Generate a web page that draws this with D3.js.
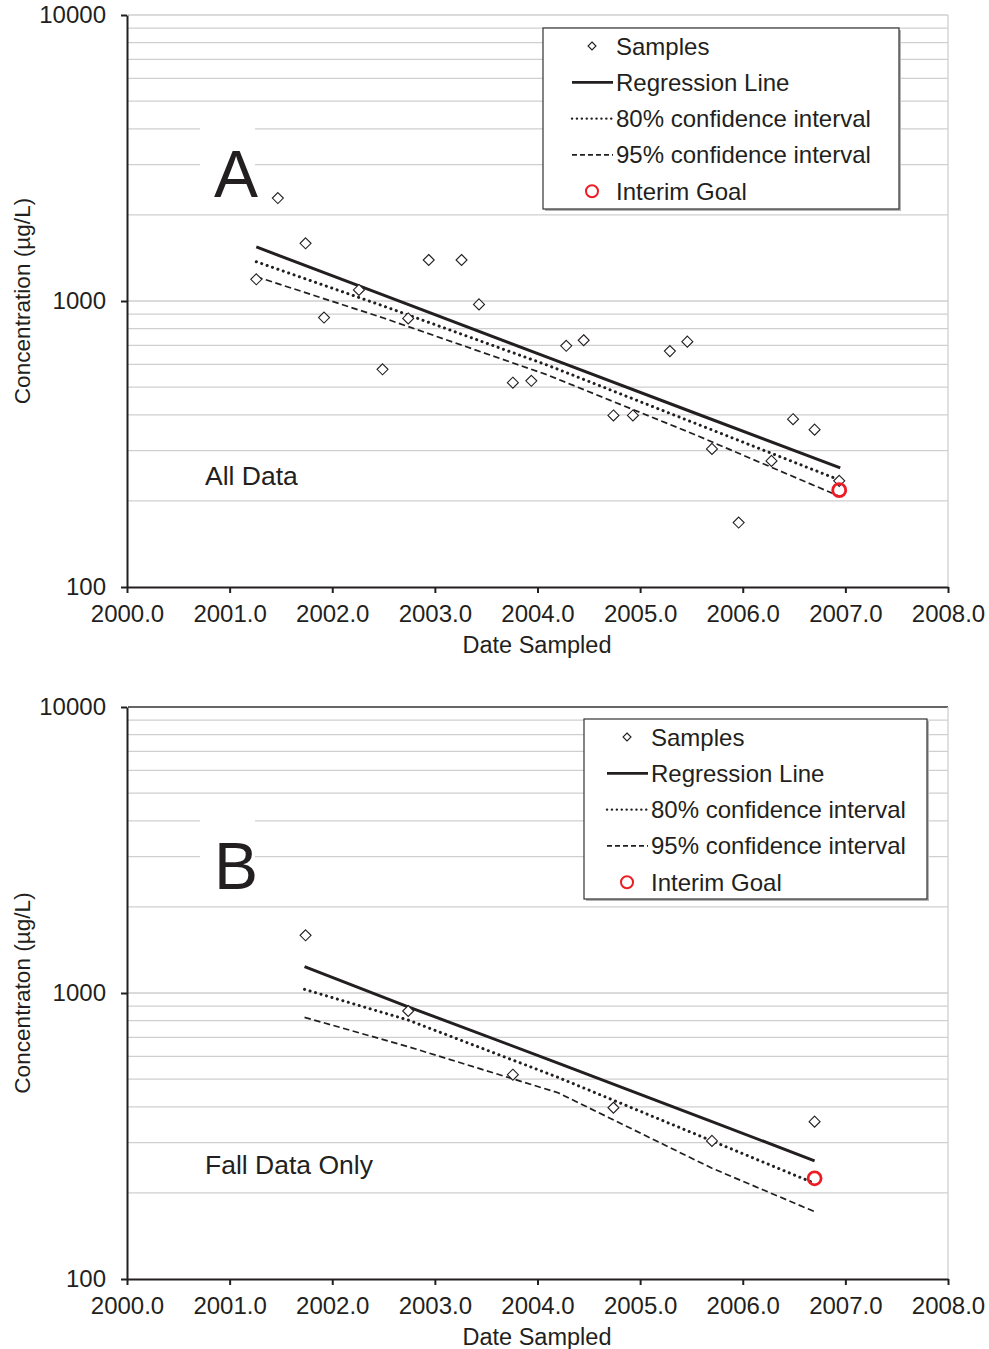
<!DOCTYPE html>
<html lang="en">
<head>
  <meta charset="UTF-8">
  <title>Concentration trend</title>
  <script src="https://d3js.org/d3.v7.min.js"></script>
  <style>
    body { margin: 0; background: #fff; }
    text { font-family: "Liberation Sans", Arial, sans-serif; fill: #231f20; }
  </style>
</head>
<body>
  <div id="chart"></div>

  <script>
    // Axis ticks
    const xTicks = [2000, 2001, 2002, 2003, 2004, 2005, 2006, 2007, 2008];
    const yTicks = [100, 1000, 10000];

    // Panel A - all data
    const sampleDatesA = [2001.26, 2001.47, 2001.74, 2001.92, 2002.26, 2002.49, 2002.74, 2002.94,
      2003.26, 2003.43, 2003.76, 2003.94, 2004.28, 2004.45, 2004.74, 2004.93,
      2005.29, 2005.46, 2005.70, 2005.96, 2006.28, 2006.49, 2006.70, 2006.94];
    const sampleConcA = [1191, 2291, 1591, 875, 1093, 577, 869, 1391,
      1391, 973, 518, 526, 697, 729, 398, 398,
      668, 721, 304, 168, 276, 386, 355, 235];
    const fitDatesA = [2001.26, 2002.5, 2004.1, 2005.5, 2006.95];
    const regressionA = [1545, 1048, 635, 410, 261];
    const ci80A = [1372, 960, 596, 378, 236];
    const ci95A = [1216, 872, 551, 345, 207];
    const goalA = { date: 2006.94, conc: 218 };

    // Panel B - fall data only
    const sampleDatesB = [2001.74, 2002.74, 2003.76, 2004.74, 2005.70, 2006.70];
    const sampleConcB = [1591, 865, 518, 397, 304, 355];
    const fitDatesB = [2001.73, 2002.74, 2004.2, 2005.7, 2006.70];
    const regressionB = [1236, 895, 569, 355, 259];
    const ci80B = [1030, 804, 507, 304, 216];
    const ci95B = [822, 649, 448, 244, 172];
    const goalB = { date: 2006.70, conc: 225 };

    const legendLabels = ['Samples', 'Regression Line', '80% confidence interval', '95% confidence interval', 'Interim Goal'];

    const width = 989, height = 1349;
    const svg = d3.select('#chart').append('svg')
      .attr('width', width)
      .attr('height', height);

    const lineStyles = {
      reg: { width: 3, dash: null, cap: 'butt' },
      ci80: { width: 3, dash: '0.1,5.6', cap: 'round' },
      ci95: { width: 1.7, dash: '6.5,3.5', cap: 'butt' }
    };

    function diamond(g, x, y, r) {
      g.append('path')
        .attr('d', `M${x},${y - r}L${x + r},${y}L${x},${y + r}L${x - r},${y}Z`)
        .attr('fill', '#fff')
        .attr('stroke', '#231f20')
        .attr('stroke-width', 1.1);
    }

    function drawPanel(p) {
      const x = d3.scaleLinear().domain([2000, 2008]).range([127, 948]);
      const y = d3.scaleLog().domain([100, 10000]).range([p.bottom, p.top]);
      const g = svg.append('g');

      // gridlines (major + minor)
      const grid = [];
      [100, 1000].forEach(d => { for (let k = 1; k <= 9; k++) grid.push(d * k); });
      grid.push(10000);
      g.selectAll('line.grid').data(grid.filter(v => v > 100))
        .join('line')
        .attr('x1', 128).attr('x2', 948)
        .attr('y1', d => y(d)).attr('y2', d => y(d))
        .attr('stroke', d => (d === 10000 && p.darkTop) ? '#333' : '#cfcfcf')
        .attr('stroke-width', d => (d === 10000 && p.darkTop) ? 1.6 : 1.3);
      g.append('line')
        .attr('x1', 948).attr('x2', 948).attr('y1', p.top).attr('y2', p.bottom)
        .attr('stroke', '#cfcfcf').attr('stroke-width', 1.3);

      // white patch behind the panel letter
      g.append('rect')
        .attr('x', 200).attr('y', p.top + 108).attr('width', 55).attr('height', 90)
        .attr('fill', '#fff');
      g.append('text')
        .attr('x', 214).attr('y', p.top + 182)
        .attr('font-size', 66)
        .text(p.letter);

      g.append('text')
        .attr('x', 205).attr('y', y(p.noteAt) + p.noteDy)
        .attr('font-size', 26.5)
        .text(p.note);

      // axes
      const yAxis = g.append('g')
        .attr('transform', 'translate(127,0)')
        .call(d3.axisLeft(y).tickValues(yTicks).tickFormat(d3.format('d')).tickSize(6).tickSizeOuter(0));
      const xAxis = g.append('g')
        .attr('transform', `translate(0,${p.bottom})`)
        .call(d3.axisBottom(x).tickValues(xTicks).tickFormat(d3.format('.1f')).tickSize(6).tickSizeOuter(0));
      [yAxis, xAxis].forEach(a => {
        a.select('.domain').attr('stroke', '#231f20').attr('stroke-width', 2);
        a.selectAll('.tick line').attr('stroke', '#231f20').attr('stroke-width', 2);
        a.selectAll('.tick text')
          .attr('font-family', '"Liberation Sans", Arial, sans-serif')
          .attr('font-size', 24).attr('fill', '#231f20');
      });
      yAxis.selectAll('.tick text').attr('x', -21);
      xAxis.selectAll('.tick text').attr('y', 18);

      g.append('text')
        .attr('x', 537).attr('y', p.bottom + 66)
        .attr('text-anchor', 'middle').attr('font-size', 23.5)
        .text('Date Sampled');
      g.append('text')
        .attr('transform', `translate(30,${(p.top + p.bottom) / 2}) rotate(-90)`)
        .attr('text-anchor', 'middle').attr('font-size', 22.6)
        .text(p.yTitle);

      // fitted lines
      const line = d3.line().x(d => x(d[0])).y(d => y(d[1]));
      [['reg', p.reg], ['ci80', p.ci80], ['ci95', p.ci95]].forEach(([k, vals]) => {
        const s = lineStyles[k];
        g.append('path')
          .attr('d', line(p.fitDates.map((d, i) => [d, vals[i]])))
          .attr('fill', 'none')
          .attr('stroke', '#231f20')
          .attr('stroke-width', s.width)
          .attr('stroke-dasharray', s.dash)
          .attr('stroke-linecap', s.cap);
      });

      // samples
      p.dates.forEach((d, i) => diamond(g, x(d), y(p.conc[i]), 5.5));

      // interim goal
      g.append('circle')
        .attr('cx', x(p.goal.date)).attr('cy', y(p.goal.conc)).attr('r', 6.5)
        .attr('fill', 'none').attr('stroke', '#ed1c24').attr('stroke-width', 2.8);

      // legend
      const L = p.legend;
      g.append('rect')
        .attr('x', L.x + 2).attr('y', L.y + 2).attr('width', L.w).attr('height', L.h)
        .attr('fill', '#b5b5b5');
      g.append('rect')
        .attr('x', L.x).attr('y', L.y).attr('width', L.w).attr('height', L.h)
        .attr('fill', '#fff').attr('stroke', '#333').attr('stroke-width', 1.2);
      const sx = L.x + L.pad, tx = L.x + L.pad + 44, cx = L.x + L.pad + 20;
      legendLabels.forEach((lab, i) => {
        const ry = L.y + 18 + i * 36.3;
        g.append('text')
          .attr('x', tx).attr('y', ry + 8.5)
          .attr('font-size', 24)
          .text(lab);
        if (i === 0) diamond(g, cx, ry, 4);
        if (i >= 1 && i <= 3) {
          g.append('line')
            .attr('x1', sx).attr('x2', sx + 41).attr('y1', ry).attr('y2', ry)
            .attr('stroke', '#231f20')
            .attr('stroke-width', [2.8, 2.4, 1.6][i - 1])
            .attr('stroke-dasharray', [null, '0.1,4.8', '5,3'][i - 1])
            .attr('stroke-linecap', i === 2 ? 'round' : 'butt');
        }
        if (i === 4) {
          g.append('circle')
            .attr('cx', cx).attr('cy', ry).attr('r', 6)
            .attr('fill', 'none').attr('stroke', '#ed1c24').attr('stroke-width', 2);
        }
      });
    }

    drawPanel({
      top: 15, bottom: 587, letter: 'A', note: 'All Data', noteAt: 245, noteDy: 9, darkTop: false,
      yTitle: 'Concentration (µg/L)',
      dates: sampleDatesA, conc: sampleConcA,
      fitDates: fitDatesA, reg: regressionA, ci80: ci80A, ci95: ci95A, goal: goalA,
      legend: { x: 543, y: 28, w: 356, h: 181, pad: 29 }
    });

    drawPanel({
      top: 707, bottom: 1279, letter: 'B', note: 'Fall Data Only', noteAt: 245, noteDy: 6, darkTop: true,
      yTitle: 'Concentraton (µg/L)',
      dates: sampleDatesB, conc: sampleConcB,
      fitDates: fitDatesB, reg: regressionB, ci80: ci80B, ci95: ci95B, goal: goalB,
      legend: { x: 584, y: 719, w: 343, h: 180, pad: 23 }
    });
  </script>
</body>
</html>
